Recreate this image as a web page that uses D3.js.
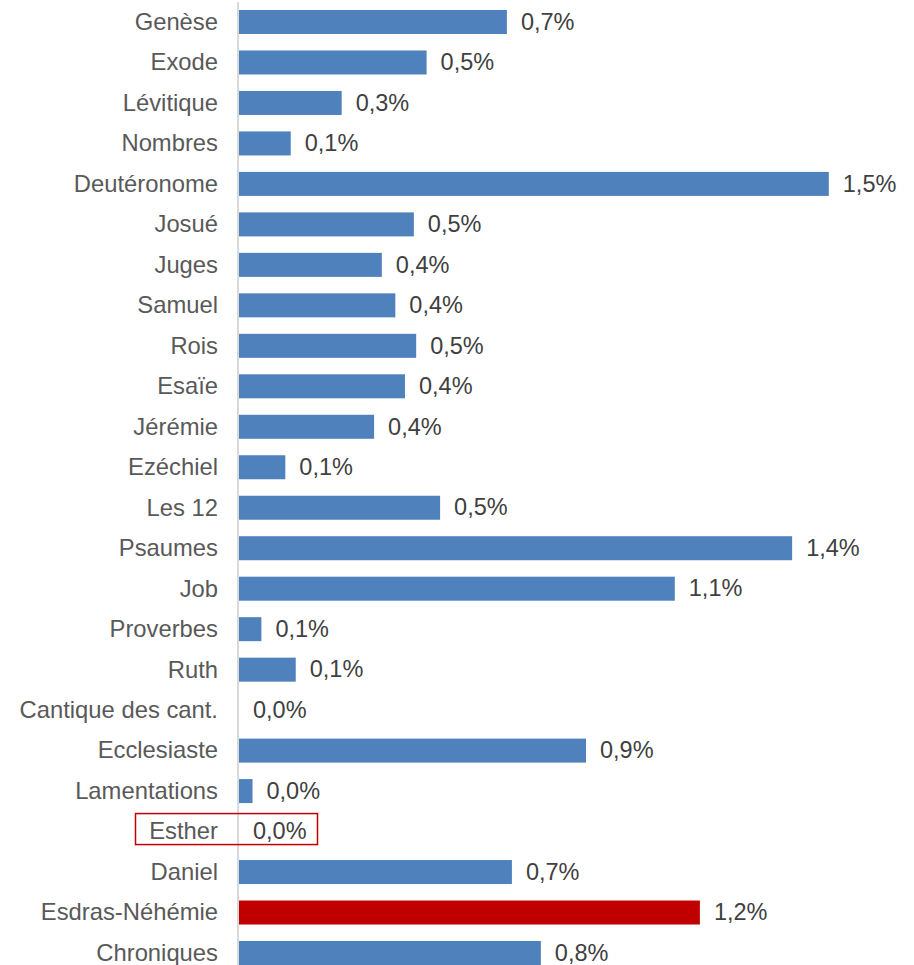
<!DOCTYPE html>
<html>
<head>
<meta charset="utf-8">
<script src="https://cdn.jsdelivr.net/npm/d3@7"></script>
<style>
  html, body { margin: 0; padding: 0; background: #ffffff; }
  svg { display: block; }
  text { font-family: "Liberation Sans", Arial, sans-serif; }
</style>
</head>
<body>
<svg id="chart" width="914" height="965"></svg>
<script>
const categories = ["Genèse","Exode","Lévitique","Nombres","Deutéronome","Josué","Juges","Samuel","Rois","Esaïe","Jérémie","Ezéchiel","Les 12","Psaumes","Job","Proverbes","Ruth","Cantique des cant.","Ecclesiaste","Lamentations","Esther","Daniel","Esdras-Néhémie","Chroniques"];
const values = [0.694,0.486,0.266,0.134,1.528,0.453,0.370,0.405,0.459,0.430,0.350,0.120,0.521,1.433,1.129,0.058,0.147,0.0,0.899,0.035,0.0,0.707,1.194,0.782];
const valueLabels = ["0,7%","0,5%","0,3%","0,1%","1,5%","0,5%","0,4%","0,4%","0,5%","0,4%","0,4%","0,1%","0,5%","1,4%","1,1%","0,1%","0,1%","0,0%","0,9%","0,0%","0,0%","0,7%","1,2%","0,8%"];
const highlightBar = "Esdras-Néhémie";
const boxedCategory = "Esther";

const data = categories.map((c, i) => ({ cat: c, value: values[i], label: valueLabels[i] }));

const svg = d3.select("#chart");
const x = d3.scaleLinear().domain([0, 1]).range([239, 625]);
const y = d3.scaleBand().domain(categories).range([1.76, 973.24]).paddingInner(0.407).paddingOuter(0.2035);

// bars
svg.append("g").selectAll("rect").data(data).join("rect")
  .attr("x", x(0))
  .attr("y", d => y(d.cat))
  .attr("width", d => x(d.value) - x(0))
  .attr("height", y.bandwidth())
  .attr("fill", d => d.cat === highlightBar ? "#c00000" : "#4f81bd");

// axis
const axis = svg.append("g")
  .attr("transform", `translate(${x(0) - 1.5},0)`)
  .call(d3.axisLeft(y).tickSize(0).tickPadding(19.5));
axis.select(".domain").attr("stroke", "#d9d9d9").attr("stroke-width", 2);
axis.selectAll("text")
  .attr("fill", "#595959")
  .style("font-size", "23.8px")
  .style("font-family", "'Liberation Sans', Arial, sans-serif")
  .attr("dy", "0.33em");

// value labels
svg.append("g").selectAll("text").data(data).join("text")
  .attr("x", d => x(d.value) + 14)
  .attr("y", d => y(d.cat) + y.bandwidth() / 2)
  .attr("dy", "0.33em")
  .attr("fill", "#404040")
  .style("font-size", "23.5px")
  .text(d => d.label);

// highlight box around Esther
const by = y(boxedCategory) + y.bandwidth() / 2;
svg.append("rect")
  .attr("x", x(0) - 103.5)
  .attr("y", by - 18)
  .attr("width", 182)
  .attr("height", 31)
  .attr("fill", "none")
  .attr("stroke", "#c00000")
  .attr("stroke-width", 1.5);
</script>
</body>
</html>
